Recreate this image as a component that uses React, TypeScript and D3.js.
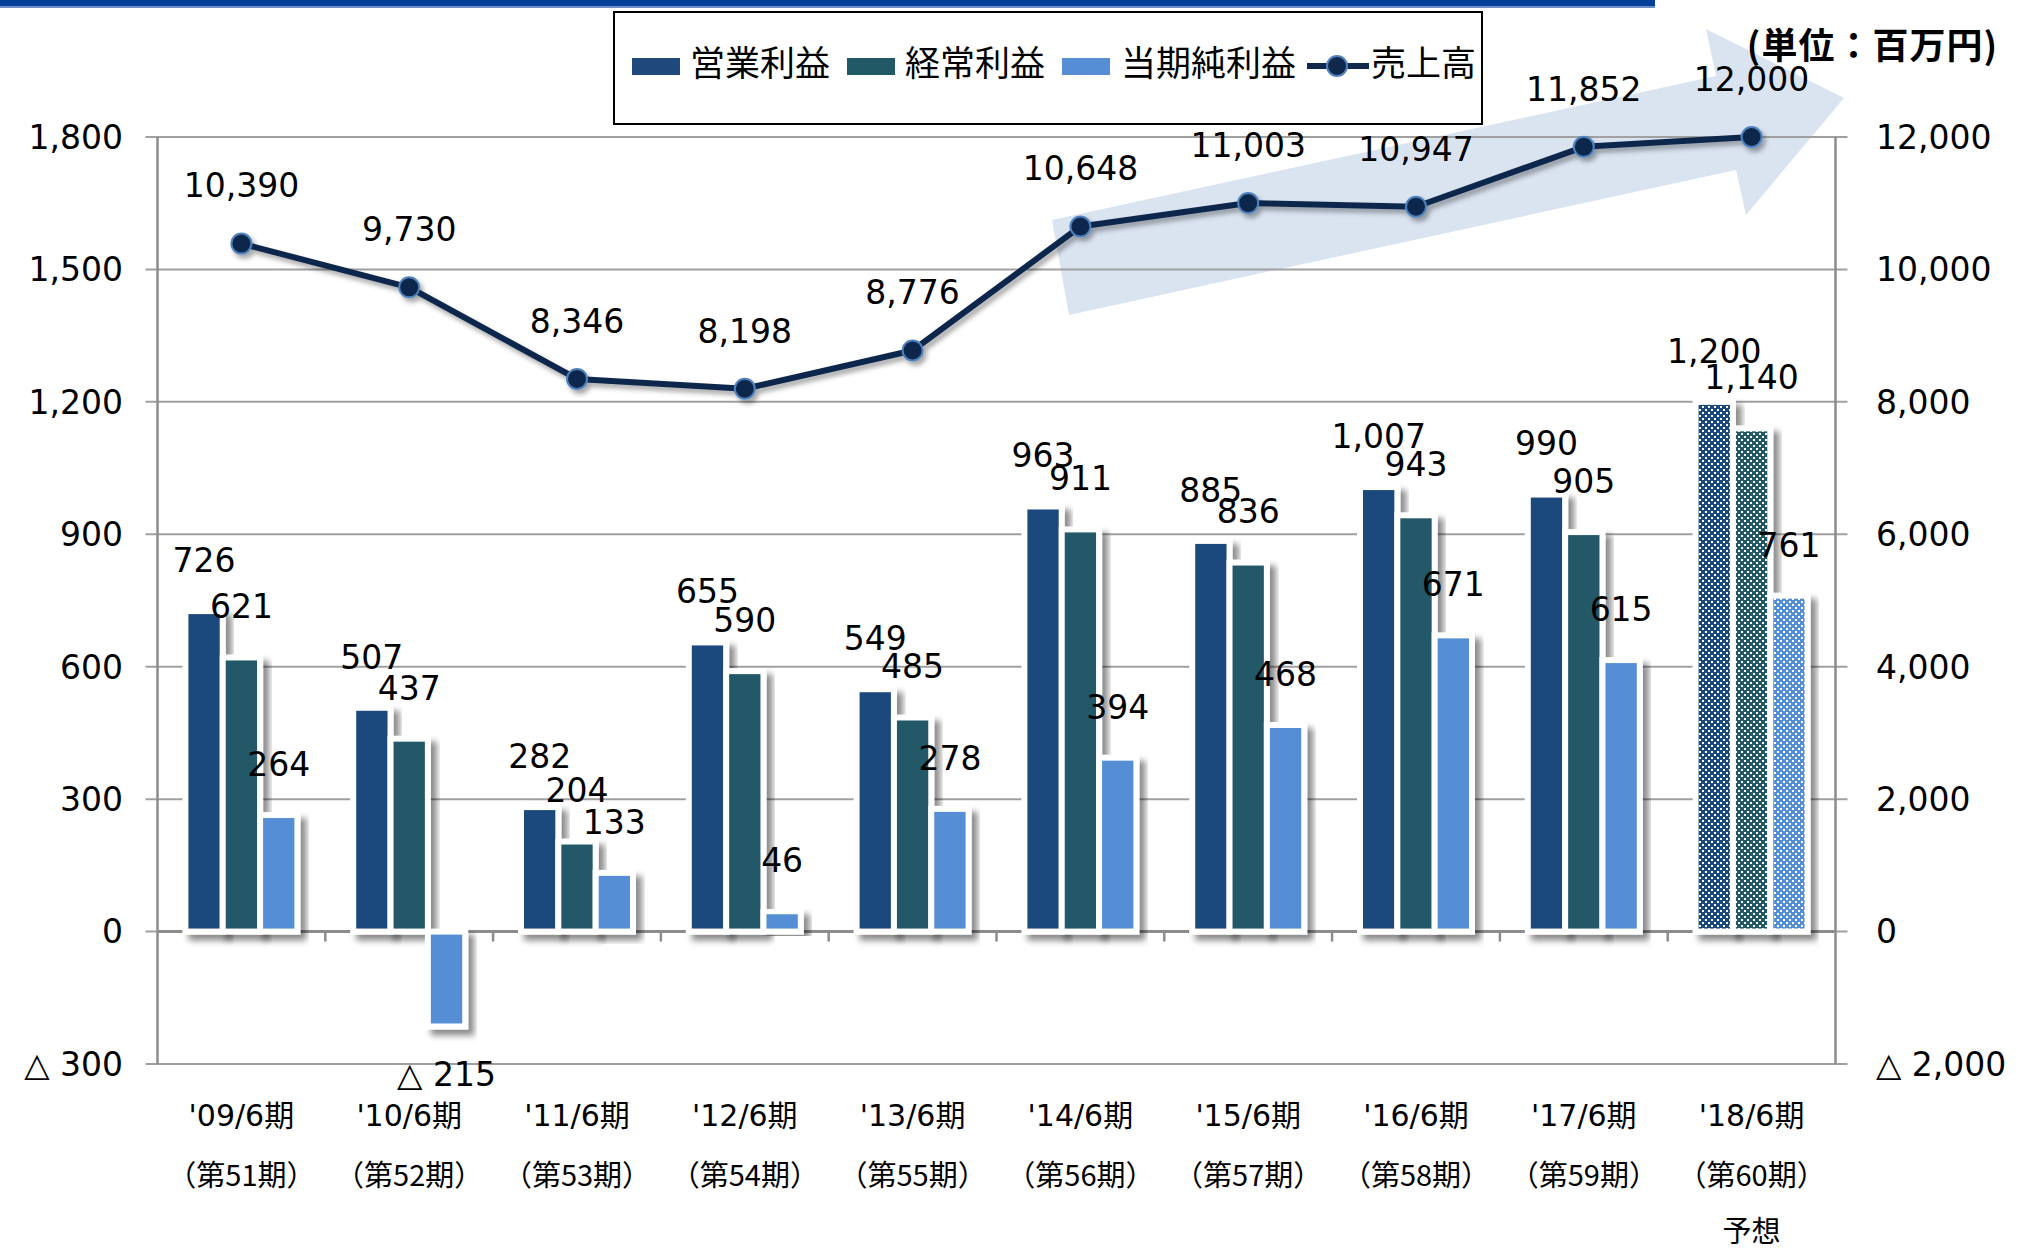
import React from "react";
import * as d3 from "d3";

const categories = ["'09/6期", "'10/6期", "'11/6期", "'12/6期", "'13/6期", "'14/6期", "'15/6期", "'16/6期", "'17/6期", "'18/6期"];
const periods = ["（第51期）", "（第52期）", "（第53期）", "（第54期）", "（第55期）", "（第56期）", "（第57期）", "（第58期）", "（第59期）", "（第60期）"];
const seriesNames = ["営業利益", "経常利益", "当期純利益"];
const operatingProfit = [726, 507, 282, 655, 549, 963, 885, 1007, 990, 1200];
const ordinaryProfit = [621, 437, 204, 590, 485, 911, 836, 943, 905, 1140];
const netProfit = [264, -215, 133, 46, 278, 394, 468, 671, 615, 761];
const sales = [10390, 9730, 8346, 8198, 8776, 10648, 11003, 10947, 11852, 12000];
const leftTicks = [-300, 0, 300, 600, 900, 1200, 1500, 1800];
const rightTicks = [-2000, 0, 2000, 4000, 6000, 8000, 10000, 12000];

const colors = ["#1F497D", "#215967", "#558ED5"];
const lineColor = "#10284B";
const fontNum = "'DejaVu Sans', 'Noto Sans CJK JP', sans-serif";
const fontJp = "'Noto Sans CJK JP', 'DejaVu Sans', sans-serif";

const fmt = (v: number) => (v < 0 ? `△ ${d3.format(",")(-v)}` : d3.format(",")(v));

export default function App() {
  const W = 2024;
  const H = 1250;
  const left = 157.5;
  const right = 1835.5;
  const top = 137;
  const bottom = 1064;

  const x = d3.scaleBand<string>().domain(categories).range([left, right]).padding(0);
  const yL = d3.scaleLinear().domain([-300, 1800]).range([bottom, top]);
  const yR = d3.scaleLinear().domain([-2000, 12000]).range([bottom, top]);
  const groupW = 112;
  const inner = d3.scaleBand<string>().domain(seriesNames).range([0, groupW]);
  const bw = inner.bandwidth();
  const y0 = yL(0);

  const barData = [operatingProfit, ordinaryProfit, netProfit];
  const cx = (i: number) => (x(categories[i]) || 0) + x.bandwidth() / 2;

  const line = d3
    .line<number>()
    .x((_, i) => cx(i))
    .y((d) => yR(d));

  // background arrow (decoration)
  const arrow = [
    [1052, 220],
    [1716, 76],
    [1706, 29],
    [1844, 98],
    [1746, 215],
    [1736, 170],
    [1069, 315],
  ];

  return (
    <svg
      width={W}
      height={H}
      style={{ position: "absolute", left: 0, top: 0, background: "#fff" }}
    >
      <defs>
        <filter id="shadow" x="-30%" y="-10%" width="160%" height="130%">
          <feDropShadow dx="6" dy="6" stdDeviation="3" floodColor="#000" floodOpacity="0.45" />
        </filter>
        <filter id="lshadow" x="-10%" y="-20%" width="120%" height="140%">
          <feDropShadow dx="3" dy="4" stdDeviation="2.5" floodColor="#000" floodOpacity="0.35" />
        </filter>
        {colors.map((c, k) => (
          <pattern key={k} id={`pat${k}`} width="6" height="6" patternUnits="userSpaceOnUse">
            <rect width="6" height="6" fill={c} />
            <rect x="1" y="1" width="2" height="2" fill="#fff" />
            <rect x="4" y="4" width="2" height="2" fill="#fff" />
          </pattern>
        ))}
      </defs>

      {/* top band */}
      <rect x={0} y={0} width={1655} height={6} fill="#063F97" />
      <rect x={0} y={6} width={1655} height={2} fill="#6F8FC8" />

      {/* arrow */}
      <polygon points={arrow.map((p) => p.join(",")).join(" ")} fill="#DAE4F1" />

      {/* gridlines */}
      {leftTicks.map((t) => (
        <line key={t} x1={left - 12} x2={right + 12} y1={yL(t)} y2={yL(t)} stroke="#A0A0A0" strokeWidth={2} />
      ))}
      {/* axes */}
      <line x1={left} x2={left} y1={top} y2={bottom} stroke="#8C8C8C" strokeWidth={2.5} />
      <line x1={right} x2={right} y1={top} y2={bottom} stroke="#8C8C8C" strokeWidth={2.5} />
      <line x1={left} x2={right} y1={y0} y2={y0} stroke="#8C8C8C" strokeWidth={3} />
      {categories.map((c, i) =>
        i === 0 ? null : (
          <line key={c} x1={x(c)} x2={x(c)} y1={y0} y2={y0 + 10} stroke="#8C8C8C" strokeWidth={2.5} />
        )
      )}

      {/* left ticks */}
      {leftTicks.map((t) => (
        <text key={t} x={123} y={yL(t)} dy="0.36em" textAnchor="end" fontFamily={fontNum} fontSize={33} fill="#000">
          {fmt(t)}
        </text>
      ))}
      {/* right ticks */}
      {rightTicks.map((t) => (
        <text key={t} x={1876} y={yR(t)} dy="0.36em" textAnchor="start" fontFamily={fontNum} fontSize={33} fill="#000">
          {fmt(t)}
        </text>
      ))}

      {/* bars */}
      {barData.map((vals, s) =>
        vals.map((v, i) => {
          const bx = (x(categories[i]) || 0) + (x.bandwidth() - groupW) / 2 + (inner(seriesNames[s]) || 0);
          const yTop = v >= 0 ? yL(v) : y0;
          const h = Math.abs(yL(v) - y0);
          const forecast = i === categories.length - 1;
          return (
            <rect
              key={`${s}-${i}`}
              x={bx}
              y={yTop}
              width={bw}
              height={h}
              fill={forecast ? `url(#pat${s})` : colors[s]}
              stroke="#fff"
              strokeWidth={6}
              filter="url(#shadow)"
            />
          );
        })
      )}

      {/* bar labels */}
      {barData.map((vals, s) =>
        vals.map((v, i) => {
          const bx = (x(categories[i]) || 0) + (x.bandwidth() - groupW) / 2 + (inner(seriesNames[s]) || 0) + bw / 2;
          const ly = v >= 0 ? yL(v) - 51 : yL(v) + 48;
          return (
            <text key={`l${s}-${i}`} x={bx} y={ly} dy="0.36em" textAnchor="middle" fontFamily={fontNum} fontSize={33} fill="#000">
              {fmt(v)}
            </text>
          );
        })
      )}

      {/* sales line */}
      <g filter="url(#lshadow)">
        <path d={line(sales) || ""} fill="none" stroke={lineColor} strokeWidth={6} strokeLinejoin="round" />
        {sales.map((v, i) => (
          <circle key={i} cx={cx(i)} cy={yR(v)} r={10} fill={lineColor} stroke="#4F81BD" strokeWidth={2} />
        ))}
      </g>
      {sales.map((v, i) => (
        <text key={i} x={cx(i)} y={yR(v) - 58} dy="0.36em" textAnchor="middle" fontFamily={fontNum} fontSize={33} fill="#000">
          {fmt(v)}
        </text>
      ))}

      {/* category labels */}
      {categories.map((c, i) => (
        <g key={c}>
          <text x={cx(i)} y={1115} dy="0.36em" textAnchor="middle" fontFamily={fontNum} fontSize={30} fill="#000">
            {c}
          </text>
          <text x={cx(i)} y={1176} dy="0.36em" textAnchor="middle" fontFamily={fontJp} fontSize={29} fill="#000">
            {periods[i]}
          </text>
        </g>
      ))}
      <text x={cx(categories.length - 1)} y={1232} dy="0.36em" textAnchor="middle" fontFamily={fontJp} fontSize={29} fill="#000">
        予想
      </text>

      {/* legend */}
      <rect x={614} y={12} width={868} height={112} fill="#fff" stroke="#000" strokeWidth={2} />
      {[
        { sx: 632, tx: 690, k: 0 },
        { sx: 847, tx: 905, k: 1 },
        { sx: 1062, tx: 1121, k: 2 },
      ].map((d) => (
        <g key={d.k}>
          <rect x={d.sx} y={58} width={48} height={17} fill={colors[d.k]} />
          <text x={d.tx} y={63} dy="0.36em" fontFamily={fontJp} fontSize={35} fill="#000">
            {seriesNames[d.k]}
          </text>
        </g>
      ))}
      <line x1={1307} x2={1369} y1={66} y2={66} stroke={lineColor} strokeWidth={6} />
      <circle cx={1337} cy={66} r={10} fill={lineColor} stroke="#4F81BD" strokeWidth={2} />
      <text x={1371} y={63} dy="0.36em" fontFamily={fontJp} fontSize={35} fill="#000">
        売上高
      </text>

      {/* unit */}
      <text x={1998} y={46} dy="0.36em" textAnchor="end" fontFamily={fontJp} fontSize={36} fontWeight="bold" letterSpacing={1} fill="#000">
        (単位：百万円)
      </text>
    </svg>
  );
}
